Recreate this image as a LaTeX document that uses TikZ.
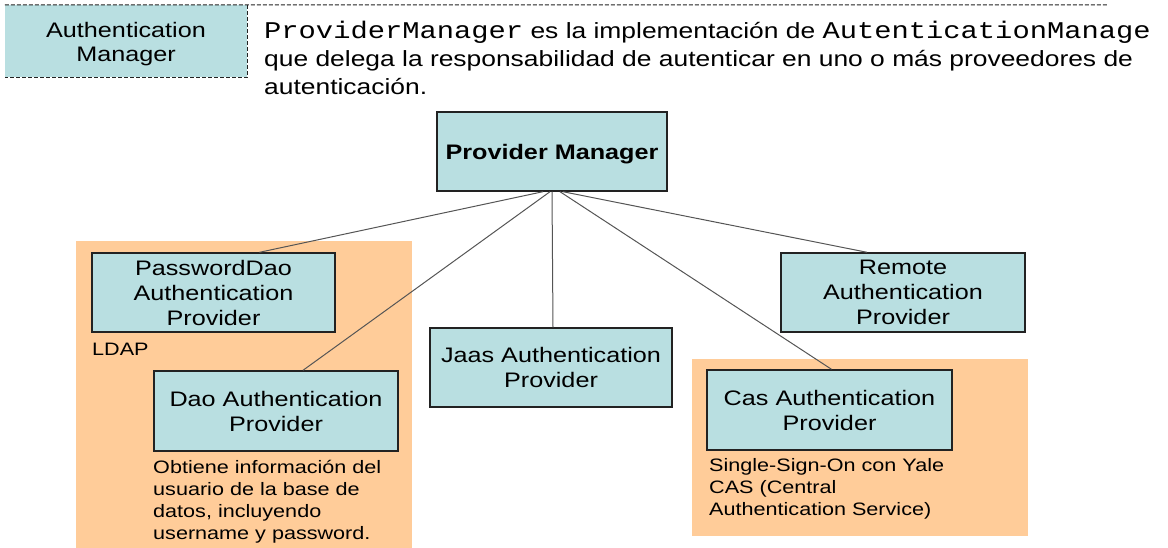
\documentclass[tikz,border=0pt]{standalone}
\usepackage{fontspec}
\setmainfont{Liberation Sans}[FakeStretch=1.2]
\setmonofont{Liberation Mono}[FakeStretch=1.2]
\newfontfamily\descmono{Liberation Mono}[FakeStretch=1.2,Scale=1.09]
\newcommand{\code}[1]{{\descmono #1}}
\definecolor{boxfill}{RGB}{185,223,225}
\definecolor{groupfill}{RGB}{255,204,153}
\definecolor{edge}{RGB}{34,34,34}
\definecolor{wire}{RGB}{85,85,85}
\begin{document}
\begin{tikzpicture}[x=1pt,y=-1pt,
  provbox/.style={draw=edge,line width=1.4pt,fill=boxfill,align=center,
    inner sep=0pt,font=\fontsize{21}{25}\selectfont},
  note/.style={anchor=north west,align=left,inner sep=0pt,
    font=\fontsize{18}{22}\selectfont},
  wireline/.style={draw=wire,line width=1pt},
  dashline/.style={draw=edge,line width=1pt,dash pattern=on 4pt off 2pt}]
\useasboundingbox (0,0) rectangle (1168,548);

% interface box with its dashed frame
\node[fill=boxfill,inner sep=0pt,minimum width=242pt,minimum height=72pt] (am) at (126,41) {};
\node[align=center,inner sep=0pt,font=\fontsize{21}{24}\selectfont] (amtext)
  at ([yshift=-3.5pt]am.center) {Authentication\\Manager};
\coordinate (lineend) at (1108,5);
\draw[dashline] (am.north west) -- (lineend);
\draw[dashline] (am.north east) -- (am.south east) -- (am.south west);

% description
\node[anchor=north west,align=left,inner sep=0pt,
  font=\fontsize{22}{28}\selectfont] (desc) at (264,21)
  {\code{ProviderManager} es la implementación de \code{AutenticationManage}\\
   que delega la responsabilidad de autenticar en uno o más proveedores de\\
   autenticación.};

% grouping backgrounds
\fill[groupfill] (76,241) rectangle (412,548);
\fill[groupfill] (692,359) rectangle (1028,536);

% providers
\node[provbox,minimum width=230pt,minimum height=79pt,text height=21pt,text depth=4pt]
  (pm) at (552,151.5) {\bfseries Provider Manager};
\node[provbox,minimum width=243pt,minimum height=79pt] (pd) at (213.5,292.5)
  {PasswordDao\\Authentication\\Provider};
\node[provbox,minimum width=244pt,minimum height=80pt] (dao) at (276,411)
  {Dao Authentication\\Provider};
\node[provbox,minimum width=242pt,minimum height=79pt] (jaas) at (551,367.5)
  {Jaas Authentication\\Provider};
\node[provbox,minimum width=245pt,minimum height=80pt] (cas) at (829.5,410)
  {Cas Authentication\\Provider};
\node[provbox,minimum width=244pt,minimum height=79pt] (remote) at (903,292.5)
  {Remote\\Authentication\\Provider};

% connectors from the manager to each provider
\draw[wireline] ([xshift=-9pt]pm.south) -- ([xshift=46pt]pd.north);
\draw[wireline] ([xshift=-2pt]pm.south) -- ([xshift=27pt]dao.north);
\draw[wireline] (pm.south) -- ([xshift=2pt]jaas.north);
\draw[wireline] ([xshift=8pt]pm.south) -- ([xshift=2pt]cas.north);
\draw[wireline] ([xshift=11pt]pm.south) -- ([xshift=-36pt]remote.north);

% annotations
\node[note] (ldap) at (92,343) {LDAP};
\node[note] (daonote) at (153,460)
  {Obtiene información del\\usuario de la base de\\datos, incluyendo\\username y password.};
\node[note] (casnote) at (709,458)
  {Single-Sign-On con Yale\\CAS (Central\\Authentication Service)};
\end{tikzpicture}
\end{document}
